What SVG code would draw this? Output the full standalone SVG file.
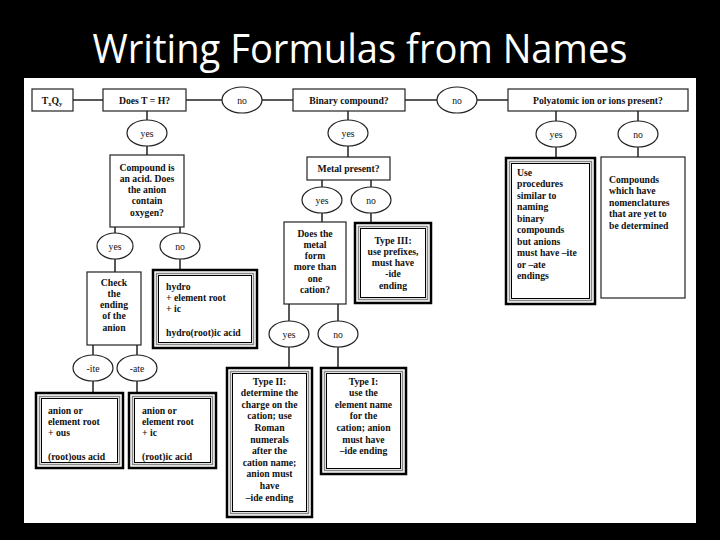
<svg xmlns="http://www.w3.org/2000/svg" width="720" height="540" viewBox="0 0 720 540">
<style>
.box{fill:#fff;stroke:#222;stroke-width:1.2}
.d1{fill:#fff;stroke:#000;stroke-width:2.5}
.d2{fill:none;stroke:#888;stroke-width:1.5}
.d3{fill:none;stroke:#000;stroke-width:1}
.el{fill:#fff;stroke:#222;stroke-width:1.2}
.ln{stroke:#222;stroke-width:1.5;fill:none}
text{font-family:"Liberation Serif","Times New Roman",serif;font-size:9.7px;fill:#111}
.b{font-weight:bold}
.c{text-anchor:middle}
.title{font-family:"Open Sans","Noto Sans",sans-serif;font-size:40px;fill:#fff;text-anchor:middle}
</style>
<rect x="0" y="0" width="720" height="540" fill="#000"/>
<text class="title" x="360" y="63" textLength="535" lengthAdjust="spacingAndGlyphs">Writing Formulas from Names</text>
<rect x="24" y="78" width="672" height="445" fill="#fff"/>

<g id="connectors">
<path class="ln" d="M73,100H103 M186,100H222 M262,100H293 M405,100H437 M477,100H508"/>
<path class="ln" d="M147,111V120 M147,146V155 M348,111V120 M348,146V157"/>
<path class="ln" d="M556,111V121 M556,147V158 M638,111V121 M638,147V157"/>
<path class="ln" d="M115,227V233 M115,259V272 M180,227V233 M180,259V270"/>
<path class="ln" d="M322,180V187 M322,213V222 M371,180V187 M371,213V223"/>
<path class="ln" d="M93,345V355 M93,381V393 M137,345V355 M137,381V393"/>
<path class="ln" d="M289,304V321 M289,347V368 M338,304V321 M338,347V368"/>
</g>

<g id="n-txqy"><rect class="box" x="32" y="89" width="41" height="22"/><text class="b c" x="52" y="103.5">T<tspan font-size="6.5" dy="2">x</tspan><tspan dy="-2">Q</tspan><tspan font-size="6.5" dy="2">y</tspan></text></g>
<g id="n-doesTH"><rect class="box" x="103" y="89" width="83" height="22"/><text class="b c" x="144.5" y="103.5">Does T = H?</text></g>
<g id="n-no1"><ellipse class="el" cx="242" cy="100" rx="20" ry="13"/><text class="c" x="242" y="103.5">no</text></g>
<g id="n-binary"><rect class="box" x="293" y="89" width="112" height="22"/><text class="b c" x="349" y="103.5">Binary compound?</text></g>
<g id="n-no2"><ellipse class="el" cx="457" cy="100" rx="20" ry="13"/><text class="c" x="457" y="103.5">no</text></g>
<g id="n-poly"><rect class="box" x="508" y="89" width="180" height="22"/><text class="b c" x="598" y="103.5">Polyatomic ion or ions present?</text></g>

<g id="n-yes1"><ellipse class="el" cx="147" cy="133" rx="20" ry="13"/><text class="c" x="147" y="136.5">yes</text></g>
<g id="n-yes2"><ellipse class="el" cx="348" cy="133" rx="20" ry="13"/><text class="c" x="348" y="136.5">yes</text></g>
<g id="n-yes3"><ellipse class="el" cx="556" cy="134" rx="20" ry="13"/><text class="c" x="556" y="137.5">yes</text></g>
<g id="n-no3"><ellipse class="el" cx="638" cy="134" rx="20" ry="13"/><text class="c" x="638" y="137.5">no</text></g>

<g id="n-acid"><rect class="box" x="110" y="155" width="74" height="72"/>
<text class="b c" x="147" y="170.5">Compound is</text><text class="b c" x="147" y="181.8">an acid.  Does</text><text class="b c" x="147" y="193.1">the anion</text><text class="b c" x="147" y="204.4">contain</text><text class="b c" x="147" y="215.7">oxygen?</text></g>

<g id="n-metal"><rect class="box" x="307" y="157" width="83" height="23"/><text class="b c" x="348.5" y="172">Metal present?</text></g>

<g id="n-use"><rect class="d1" x="506" y="158" width="89" height="146"/><rect class="d2" x="509.5" y="161.5" width="82" height="139"/><rect class="d3" x="511.5" y="163.5" width="78" height="135"/>
<text class="b" x="517" y="175.5">Use</text><text class="b" x="517" y="187">procedures</text><text class="b" x="517" y="198.5">similar to</text><text class="b" x="517" y="210">naming</text><text class="b" x="517" y="221.5">binary</text><text class="b" x="517" y="233">compounds</text><text class="b" x="517" y="244.5">but anions</text><text class="b" x="517" y="256">must have –ite</text><text class="b" x="517" y="267.5">or –ate</text><text class="b" x="517" y="279">endings</text></g>

<g id="n-yet"><rect class="box" x="601" y="157" width="84" height="141"/>
<text class="b" x="609" y="182.5">Compounds</text><text class="b" x="609" y="194">which have</text><text class="b" x="609" y="205.5">nomenclatures</text><text class="b" x="609" y="217">that are yet to</text><text class="b" x="609" y="228.5">be determined</text></g>

<g id="n-yes4"><ellipse class="el" cx="115" cy="246" rx="18" ry="13"/><text class="c" x="115" y="249.5">yes</text></g>
<g id="n-no4"><ellipse class="el" cx="180" cy="246" rx="20" ry="13"/><text class="c" x="180" y="249.5">no</text></g>
<g id="n-yes5"><ellipse class="el" cx="322" cy="200" rx="20" ry="13"/><text class="c" x="322" y="203.5">yes</text></g>
<g id="n-no5"><ellipse class="el" cx="371" cy="200" rx="20" ry="13"/><text class="c" x="371" y="203.5">no</text></g>

<g id="n-doesmetal"><rect class="box" x="284" y="222" width="62" height="82"/>
<text class="b c" x="315" y="236.5">Does the</text><text class="b c" x="315" y="247.8">metal</text><text class="b c" x="315" y="259.1">form</text><text class="b c" x="315" y="270.4">more than</text><text class="b c" x="315" y="281.7">one</text><text class="b c" x="315" y="293">cation?</text></g>

<g id="n-type3"><rect class="d1" x="355" y="223" width="76" height="80"/><rect class="d2" x="358.5" y="226.5" width="69" height="73"/><rect class="d3" x="360.5" y="228.5" width="65" height="69"/>
<text class="b c" x="393" y="243.5">Type III:</text><text class="b c" x="393" y="254.8">use prefixes,</text><text class="b c" x="393" y="266.1">must have</text><text class="b c" x="393" y="277.4">-ide</text><text class="b c" x="393" y="288.7">ending</text></g>

<g id="n-check"><rect class="box" x="87" y="272" width="54" height="73"/>
<text class="b c" x="114" y="285.5">Check</text><text class="b c" x="114" y="296.8">the</text><text class="b c" x="114" y="308.1">ending</text><text class="b c" x="114" y="319.4">of the</text><text class="b c" x="114" y="330.7">anion</text></g>

<g id="n-hydro"><rect class="d1" x="153" y="270" width="104" height="78"/><rect class="d2" x="156.5" y="273.5" width="97" height="71"/><rect class="d3" x="158.5" y="275.5" width="93" height="67"/>
<text class="b" x="166" y="289.5">hydro</text><text class="b" x="166" y="300.8">+ element root</text><text class="b" x="166" y="312.1">+ ic</text><text class="b" x="166" y="336">hydro(root)ic acid</text></g>

<g id="n-ite"><ellipse class="el" cx="93" cy="368" rx="20" ry="13"/><text class="c" x="93" y="371.5">-ite</text></g>
<g id="n-ate"><ellipse class="el" cx="137" cy="368" rx="20" ry="13"/><text class="c" x="137" y="371.5">-ate</text></g>
<g id="n-yes6"><ellipse class="el" cx="289" cy="334" rx="20" ry="13"/><text class="c" x="289" y="337.5">yes</text></g>
<g id="n-no6"><ellipse class="el" cx="338" cy="334" rx="20" ry="13"/><text class="c" x="338" y="337.5">no</text></g>

<g id="n-ous"><rect class="d1" x="36" y="393" width="87" height="75"/><rect class="d2" x="39.5" y="396.5" width="80" height="68"/><rect class="d3" x="41.5" y="398.5" width="76" height="64"/>
<text class="b" x="48" y="413.5">anion or</text><text class="b" x="48" y="424.8">element root</text><text class="b" x="48" y="436.1">+ ous</text><text class="b" x="48" y="459.5">(root)ous acid</text></g>

<g id="n-ic"><rect class="d1" x="129" y="393" width="87" height="75"/><rect class="d2" x="132.5" y="396.5" width="80" height="68"/><rect class="d3" x="134.5" y="398.5" width="76" height="64"/>
<text class="b" x="142" y="413.5">anion or</text><text class="b" x="142" y="424.8">element root</text><text class="b" x="142" y="436.1">+ ic</text><text class="b" x="142" y="459.5">(root)ic acid</text></g>

<g id="n-type2"><rect class="d1" x="227" y="368" width="85" height="149"/><rect class="d2" x="230.5" y="371.5" width="78" height="142"/><rect class="d3" x="232.5" y="373.5" width="74" height="138"/>
<text class="b c" x="269.5" y="384.5">Type II:</text><text class="b c" x="269.5" y="396.1">determine the</text><text class="b c" x="269.5" y="407.7">charge on the</text><text class="b c" x="269.5" y="419.3">cation; use</text><text class="b c" x="269.5" y="430.9">Roman</text><text class="b c" x="269.5" y="442.5">numerals</text><text class="b c" x="269.5" y="454.1">after the</text><text class="b c" x="269.5" y="465.7">cation name;</text><text class="b c" x="269.5" y="477.3">anion must</text><text class="b c" x="269.5" y="488.9">have</text><text class="b c" x="269.5" y="500.5">–ide ending</text></g>

<g id="n-type1"><rect class="d1" x="321" y="368" width="85" height="106"/><rect class="d2" x="324.5" y="371.5" width="78" height="99"/><rect class="d3" x="326.5" y="373.5" width="74" height="95"/>
<text class="b c" x="363.5" y="384.5">Type I:</text><text class="b c" x="363.5" y="396.1">use the</text><text class="b c" x="363.5" y="407.7">element name</text><text class="b c" x="363.5" y="419.3">for the</text><text class="b c" x="363.5" y="430.9">cation; anion</text><text class="b c" x="363.5" y="442.5">must have</text><text class="b c" x="363.5" y="454.1">–ide ending</text></g>
</svg>
